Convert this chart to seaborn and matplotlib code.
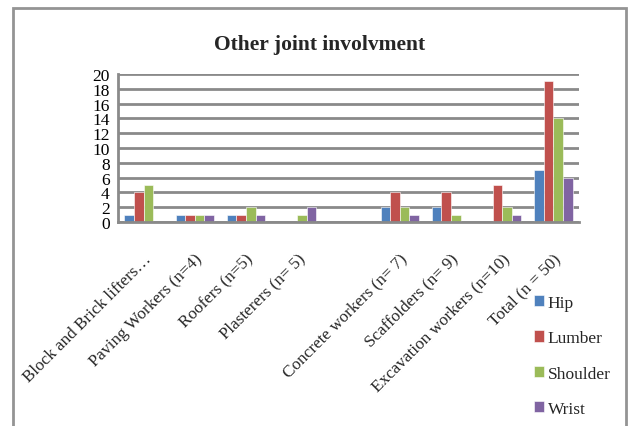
import matplotlib
matplotlib.use("Agg")
import matplotlib.pyplot as plt
import matplotlib.transforms as mtransforms
from matplotlib.patches import Rectangle
import pandas as pd
import seaborn as sns

# Worker groups (one blank slot separates the first four groups from the rest)
categories = [
    "Block and Brick lifters\u2026",
    "Paving Workers (n=4)",
    "Roofers (n=5)",
    "Plasterers (n= 5)",
    "",
    "Concrete workers (n= 7)",
    "Scaffolders (n= 9)",
    "Excavation workers (n=10)",
    "Total (n = 50)",
]
joints = ["Hip", "Lumber", "Shoulder", "Wrist"]
hip = [1, 1, 1, 0, 0, 2, 2, 0, 7]
lumber = [4, 1, 1, 0, 0, 4, 4, 5, 19]
shoulder = [5, 1, 2, 1, 0, 2, 1, 2, 14]
wrist = [0, 1, 1, 2, 0, 1, 0, 1, 6]
y_ticks = list(range(0, 21, 2))

colors = ["#4F81BD", "#C0504D", "#9BBB59", "#8064A2"]

rows = []
for joint, vals in zip(joints, [hip, lumber, shoulder, wrist]):
    for cat, v in zip(categories, vals):
        rows.append({"group": cat, "joint": joint, "count": v})
df = pd.DataFrame(rows)

sns.set_theme(style="white")
plt.rcParams["font.family"] = ["Liberation Serif", "DejaVu Serif"]

W, H = 630, 427
fig = plt.figure(figsize=(W / 100, H / 100), dpi=100)
fig.patch.set_facecolor("white")

ax = fig.add_axes([118 / W, 1 - 223 / H, (579 - 118) / W, (223 - 75) / H])

sns.barplot(
    data=df, x="group", y="count", hue="joint",
    order=categories, hue_order=joints, palette=colors,
    width=0.75, saturation=1, edgecolor="white", linewidth=0.4,
    ax=ax, legend=True,
)

ax.set_xlim(-0.5, len(categories) - 0.5)
ax.set_ylim(0, 20)
ax.set_yticks(y_ticks)
ax.set_yticklabels([str(t) for t in y_ticks], fontsize=12.5)
ax.tick_params(axis="y", length=0, pad=6, colors="black")
ax.tick_params(axis="x", length=0)
ax.set_xlabel("")
ax.set_ylabel("")

grid_color = "#8a8a8a"
ax.yaxis.grid(True, color=grid_color, linewidth=2)
ax.set_axisbelow(True)
for side in ["top", "right"]:
    ax.spines[side].set_visible(False)
for side in ["left", "bottom"]:
    ax.spines[side].set_visible(True)
    ax.spines[side].set_color(grid_color)
    ax.spines[side].set_linewidth(2)

# Rotated category labels, ending just below each group
ax.set_xticks(range(len(categories)))
offset = mtransforms.ScaledTranslation(5 / 100, -29 / 100, fig.dpi_scale_trans)
ax.set_xticklabels(categories, rotation=45, ha="right", va="center",
                   rotation_mode="anchor", fontsize=12.3)
for lbl in ax.get_xticklabels():
    lbl.set_transform(lbl.get_transform() + offset)

# Legend on the lower right
handles, labels = ax.get_legend_handles_labels()
ax.legend_.remove()
fig.legend(
    handles, labels, loc="upper left",
    bbox_to_anchor=(525 / W, 1 - 287 / H), bbox_transform=fig.transFigure,
    frameon=False, fontsize=12.5, labelspacing=1.12,
    handlelength=0.6, handleheight=0.6, handletextpad=0.2, borderpad=0,
)

fig.text(320 / W, 1 - 45 / H, "Other joint involvment", ha="center",
         va="center", fontsize=15.5, fontweight="bold")

# Chart area frame (bottom edge runs past the image)
fig.patches.append(Rectangle((13 / W, -0.1), (626 - 13) / W, 1.1 - 9 / H,
                             transform=fig.transFigure, fill=False,
                             edgecolor="#949494", linewidth=2))

fig.savefig("out.png", dpi=100, facecolor="white")
